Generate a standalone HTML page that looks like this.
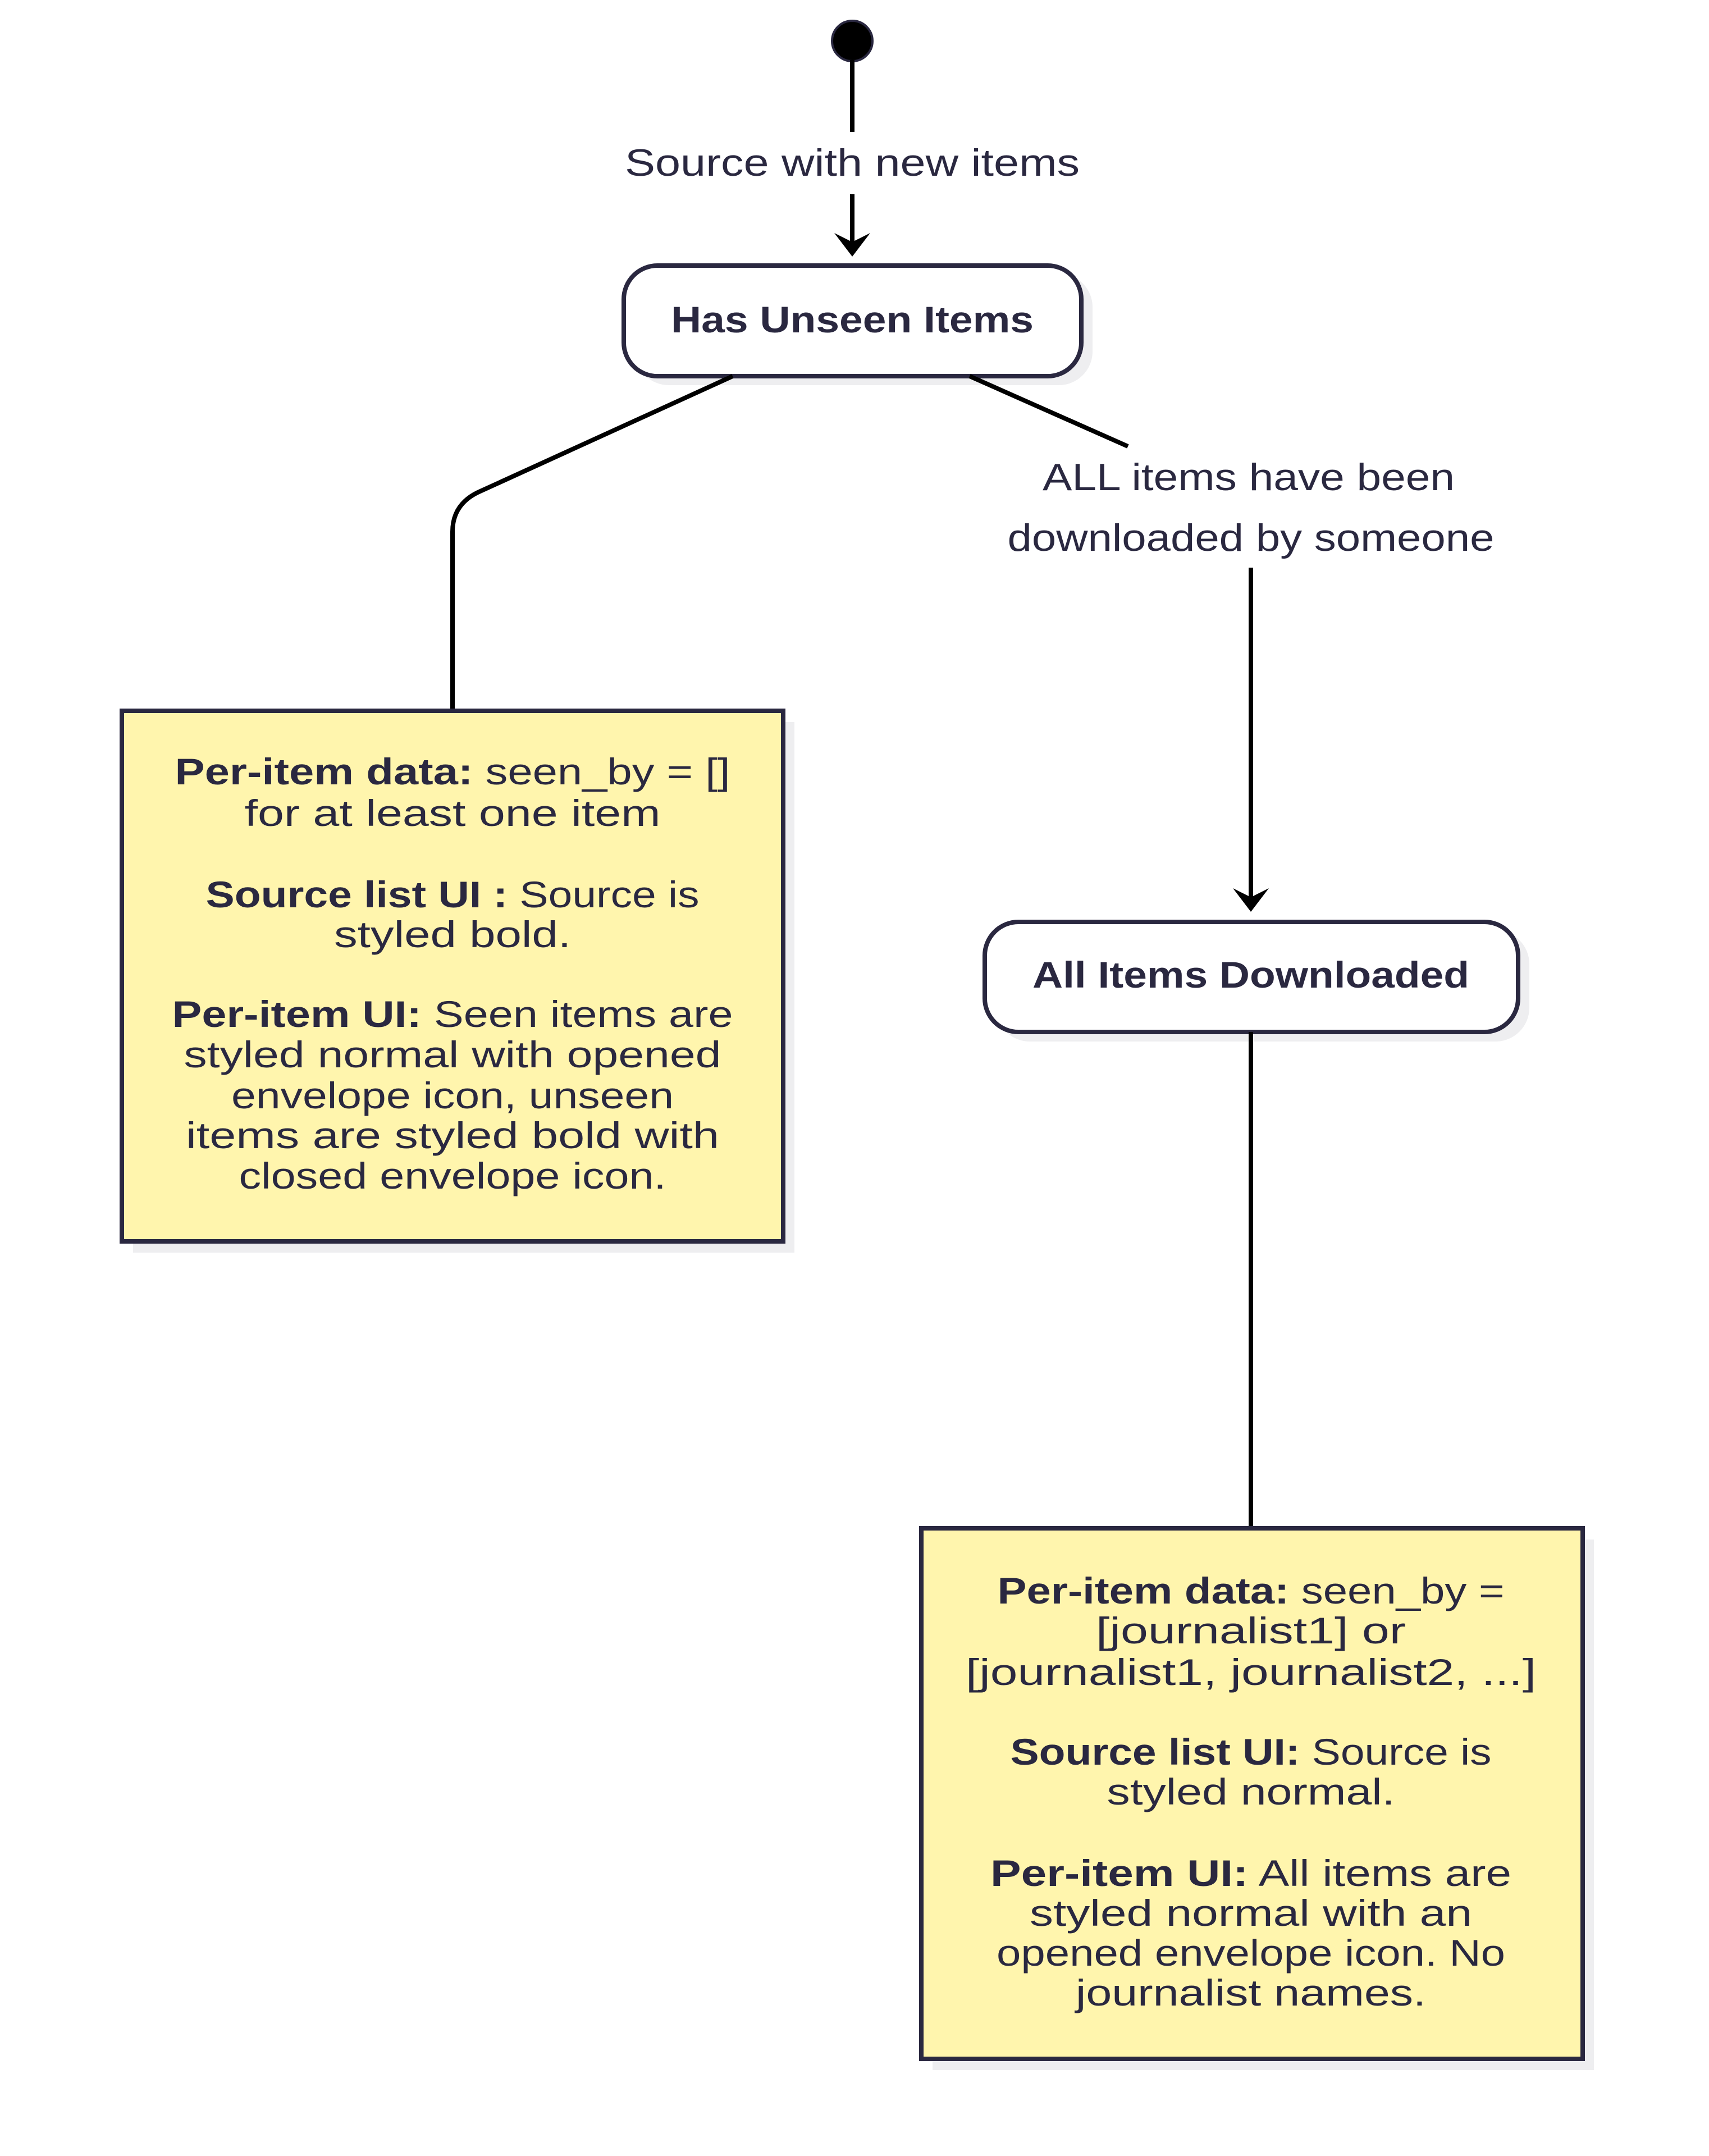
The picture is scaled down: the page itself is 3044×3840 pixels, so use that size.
<!DOCTYPE html>
<html><head><meta charset="utf-8"><style>
html,body{margin:0;padding:0;background:#fff;}
svg{display:block;}
text{font-family:"Liberation Sans",sans-serif;fill:#2a2840;}
</style></head><body>
<svg width="3044" height="3840" viewBox="0 0 3044 3840" xmlns="http://www.w3.org/2000/svg">
<g transform="translate(-4,-3)">
<!-- start dot -->
<circle cx="1522" cy="76" r="36" fill="#000" stroke="#2a2840" stroke-width="4"/>
<line x1="1522" y1="110" x2="1522" y2="238" stroke="#000" stroke-width="8"/>
<text x="1522" y="316" font-size="68" text-anchor="middle" textLength="810" lengthAdjust="spacingAndGlyphs">Source with new items</text>
<line x1="1522" y1="349" x2="1522" y2="440" stroke="#000" stroke-width="8"/>
<polygon points="1490,418 1522,460 1554,418 1522,434" fill="#000"/>

<!-- Has Unseen Items -->
<rect x="1135" y="490" width="815" height="199" rx="60" fill="#eeeef0"/>
<rect x="1115" y="476" width="815" height="197" rx="60" fill="#fff" stroke="#2a2840" stroke-width="8"/>
<text x="1522" y="595" font-size="66" font-weight="bold" text-anchor="middle" textLength="646" lengthAdjust="spacingAndGlyphs">Has Unseen Items</text>

<!-- left connector -->
<path d="M1309,673 L855,880 Q810,902 810,950 L810,1269" fill="none" stroke="#000" stroke-width="8"/>

<!-- right connector -->
<line x1="1731" y1="673" x2="2013" y2="798" stroke="#000" stroke-width="8"/>
<text x="2228" y="876" font-size="68" text-anchor="middle" textLength="734" lengthAdjust="spacingAndGlyphs">ALL items have been</text>
<text x="2232" y="984" font-size="68" text-anchor="middle" textLength="867" lengthAdjust="spacingAndGlyphs">downloaded by someone</text>
<line x1="2232" y1="1014" x2="2232" y2="1605" stroke="#000" stroke-width="8"/>
<polygon points="2200,1585 2232,1627 2264,1585 2232,1601" fill="#000"/>

<!-- All Items Downloaded -->
<rect x="1778" y="1660" width="950" height="198" rx="60" fill="#eeeef0"/>
<rect x="1758" y="1645" width="950" height="196" rx="60" fill="#fff" stroke="#2a2840" stroke-width="8"/>
<text x="2232" y="1762" font-size="66" font-weight="bold" text-anchor="middle" textLength="778" lengthAdjust="spacingAndGlyphs">All Items Downloaded</text>
<line x1="2232" y1="1841" x2="2232" y2="2725" stroke="#000" stroke-width="8"/>

<!-- left note -->
<rect x="241" y="1289" width="1178" height="945" fill="#eeeef0"/>
<rect x="221" y="1269" width="1178" height="945" fill="#fff5ad" stroke="#2a2840" stroke-width="8"/>
<g font-size="66" text-anchor="middle">
<text x="810" y="1400" textLength="989" lengthAdjust="spacingAndGlyphs"><tspan font-weight="bold">Per-item data:</tspan> seen_by = []</text>
<text x="810" y="1474" textLength="741" lengthAdjust="spacingAndGlyphs">for at least one item</text>
<text x="810" y="1619" textLength="879" lengthAdjust="spacingAndGlyphs"><tspan font-weight="bold">Source list UI :</tspan> Source is</text>
<text x="810" y="1690" textLength="422" lengthAdjust="spacingAndGlyphs">styled bold.</text>
<text x="810" y="1832" textLength="999" lengthAdjust="spacingAndGlyphs"><tspan font-weight="bold">Per-item UI:</tspan> Seen items are</text>
<text x="810" y="1904" textLength="957" lengthAdjust="spacingAndGlyphs">styled normal with opened</text>
<text x="810" y="1977" textLength="788" lengthAdjust="spacingAndGlyphs">envelope icon, unseen</text>
<text x="810" y="2048" textLength="950" lengthAdjust="spacingAndGlyphs">items are styled bold with</text>
<text x="810" y="2120" textLength="761" lengthAdjust="spacingAndGlyphs">closed envelope icon.</text>
</g>

<!-- right note -->
<rect x="1665" y="2745" width="1178" height="945" fill="#eeeef0"/>
<rect x="1645" y="2725" width="1178" height="945" fill="#fff5ad" stroke="#2a2840" stroke-width="8"/>
<g font-size="66" text-anchor="middle">
<text x="2232" y="2859" textLength="903" lengthAdjust="spacingAndGlyphs"><tspan font-weight="bold">Per-item data:</tspan> seen_by =</text>
<text x="2232" y="2930" textLength="552" lengthAdjust="spacingAndGlyphs">[journalist1] or</text>
<text x="2232" y="3004" textLength="1016" lengthAdjust="spacingAndGlyphs">[journalist1, journalist2, ...]</text>
<text x="2232" y="3146" textLength="857" lengthAdjust="spacingAndGlyphs"><tspan font-weight="bold">Source list UI:</tspan> Source is</text>
<text x="2232" y="3217" textLength="513" lengthAdjust="spacingAndGlyphs">styled normal.</text>
<text x="2232" y="3362" textLength="928" lengthAdjust="spacingAndGlyphs"><tspan font-weight="bold">Per-item UI:</tspan> All items are</text>
<text x="2232" y="3433" textLength="788" lengthAdjust="spacingAndGlyphs">styled normal with an</text>
<text x="2232" y="3504" textLength="906" lengthAdjust="spacingAndGlyphs">opened envelope icon. No</text>
<text x="2232" y="3575" textLength="624" lengthAdjust="spacingAndGlyphs">journalist names.</text>
</g>
</g>
</svg>
</body></html>
